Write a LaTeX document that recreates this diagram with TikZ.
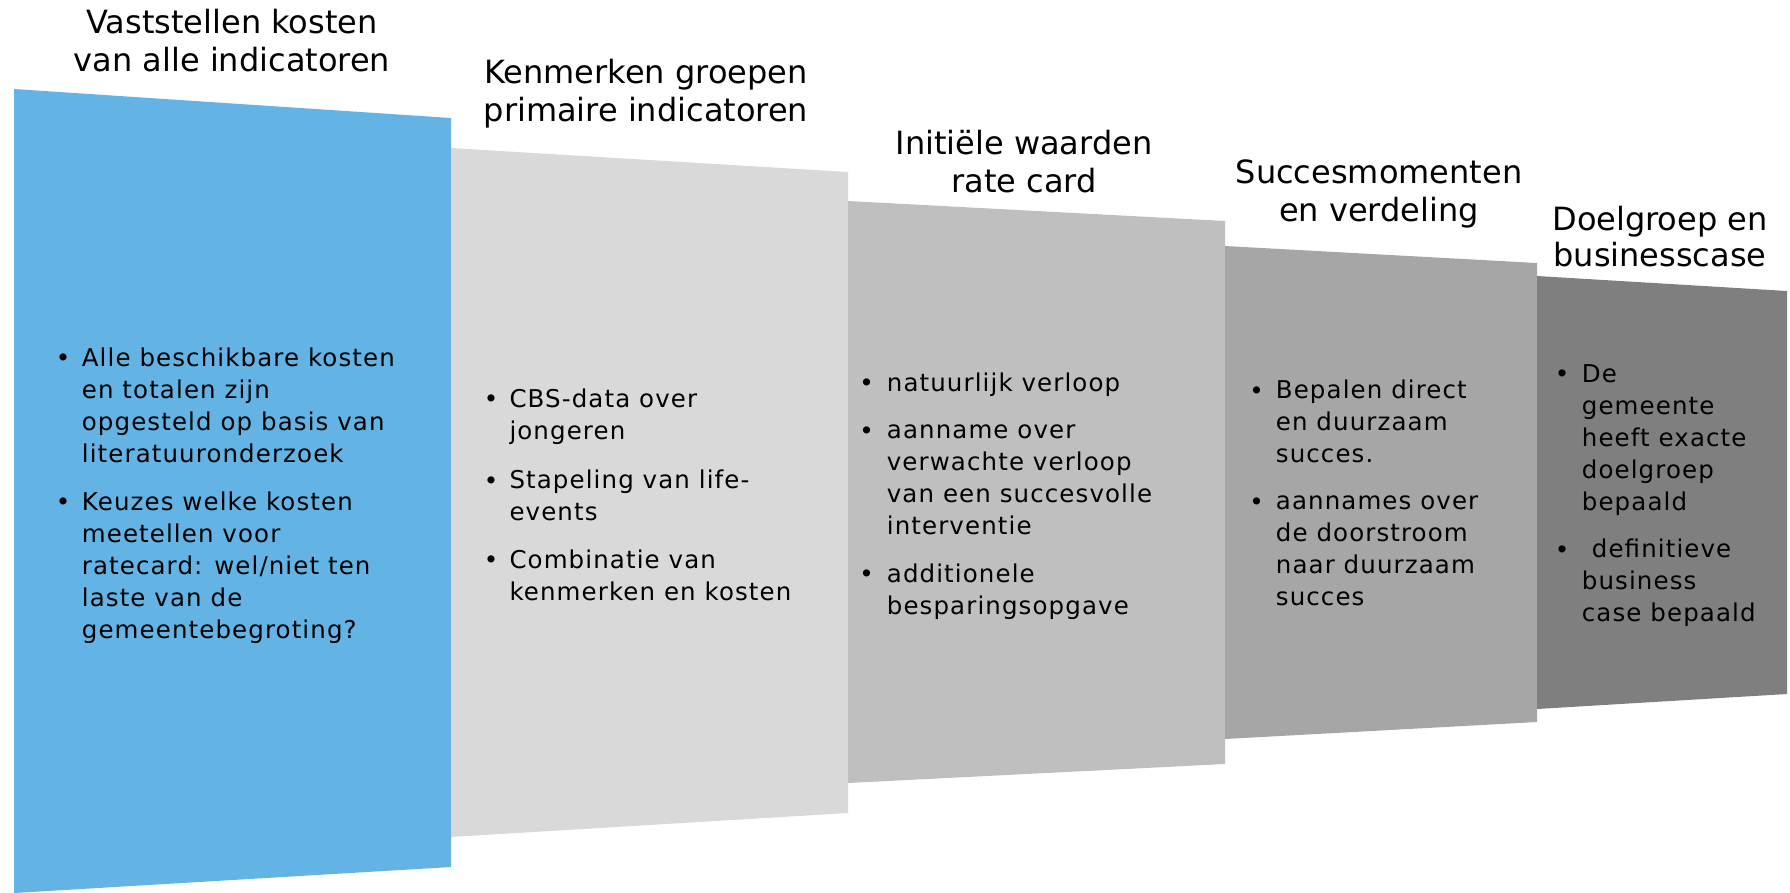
\documentclass[tikz,border=0pt]{standalone}
\usepackage{fontspec}
\setmainfont{DejaVu Sans}
\newfontfamily\titlefont{DejaVu Sans}
\newfontfamily\bodyfont[LetterSpace=4.5]{DejaVu Sans}
\definecolor{pblue}{HTML}{63B4E4}
\definecolor{pgA}{HTML}{D9D9D9}
\definecolor{pgB}{HTML}{BFBFBF}
\definecolor{pgC}{HTML}{A6A6A6}
\definecolor{pgD}{HTML}{7F7F7F}
\begin{document}
\begin{tikzpicture}[x=1pt,y=-1pt,
  ttl/.style={font=\titlefont\fontsize{32}{38}\selectfont, align=center, anchor=base, inner sep=0pt, text=black},
  body/.style={font=\bodyfont\fontsize{24.5}{32}\selectfont, align=left, anchor=base west, inner sep=0pt, text=black},
  bul/.style={font=\bodyfont\fontsize{24.5}{32}\selectfont, anchor=base, inner sep=0pt, text=black}]
\useasboundingbox (0,0) rectangle (1790,892);
% panels
\fill[pblue] (14,89) -- (451,118) -- (451,867) -- (14,893) -- cycle;
\fill[pgA] (451,148) -- (848,172) -- (848,813) -- (451,837) -- cycle;
\fill[pgB] (848,201) -- (1225,221) -- (1225,764) -- (848,783) -- cycle;
\fill[pgC] (1225,246) -- (1537,263) -- (1537,722) -- (1225,739) -- cycle;
\fill[pgD] (1537,276) -- (1787,291) -- (1787,694) -- (1537,709) -- cycle;
% titles (anchor = baseline of last line)
\node[ttl] (t1) at (232,71) {Vaststellen kosten\\van alle indicatoren};
\node[ttl] (t2) at (646,121) {Kenmerken groepen\\primaire indicatoren};
\node[ttl] (t3) at (1024,192) {Initiële waarden\\rate card};
\node[ttl] (t4) at (1379,221) {Succesmomenten\\en verdeling};
\node[ttl, font=\titlefont\fontsize{32}{36}\selectfont] (t5) at (1660,266) {Doelgroep en\\businesscase};
% panel 1
\node[bul] (b1a) at (63,366) {•};
\node[body] (p1a) at (81.7,462) {Alle beschikbare kosten\\en totalen zijn\\opgesteld op basis van\\literatuuronderzoek};
\node[bul] (b1b) at (63,510) {•};
\node[body] (p1b) at (81.7,638) {Keuzes welke kosten\\meetellen voor\\ratecard: wel/niet ten\\laste van de\\gemeentebegroting?};
% panel 2
\node[bul] (b2a) at (491,407.3) {•};
\node[body] (p2a) at (509.3,439.5) {CBS-data over\\jongeren};
\node[bul] (b2b) at (491,489) {•};
\node[body] (p2b) at (509.3,520) {Stapeling van life-\\events};
\node[bul] (b2c) at (491,568.3) {•};
\node[body] (p2c) at (509.3,600) {Combinatie van\\kenmerken en kosten};
% panel 3
\node[bul] (b3a) at (866.7,391.7) {•};
\node[body] (p3a) at (886.7,391.7) {natuurlijk verloop};
\node[bul] (b3b) at (866.7,439.3) {•};
\node[body] (p3b) at (886.7,534.5) {aanname over\\verwachte verloop\\van een succesvolle\\interventie};
\node[bul] (b3c) at (866.7,582.3) {•};
\node[body] (p3c) at (886.7,614.3) {additionele\\besparingsopgave};
% panel 4
\node[bul] (b4a) at (1256.7,399) {•};
\node[body] (p4a) at (1275.7,462.5) {Bepalen direct\\en duurzaam\\succes.};
\node[bul] (b4b) at (1256.7,510) {•};
\node[body] (p4b) at (1275.7,605) {aannames over\\de doorstroom\\naar duurzaam\\succes};
% panel 5
\node[bul] (b5a) at (1562,382.7) {•};
\node[body] (p5a) at (1581.7,510) {De\\gemeente\\heeft exacte\\doelgroep\\bepaald};
\node[bul] (b5b) at (1562,558.3) {•};
\node[body] (p5b) at (1581.7,621.7) {\hspace*{10pt}definitieve\\business\\case bepaald};
\end{tikzpicture}
\end{document}
